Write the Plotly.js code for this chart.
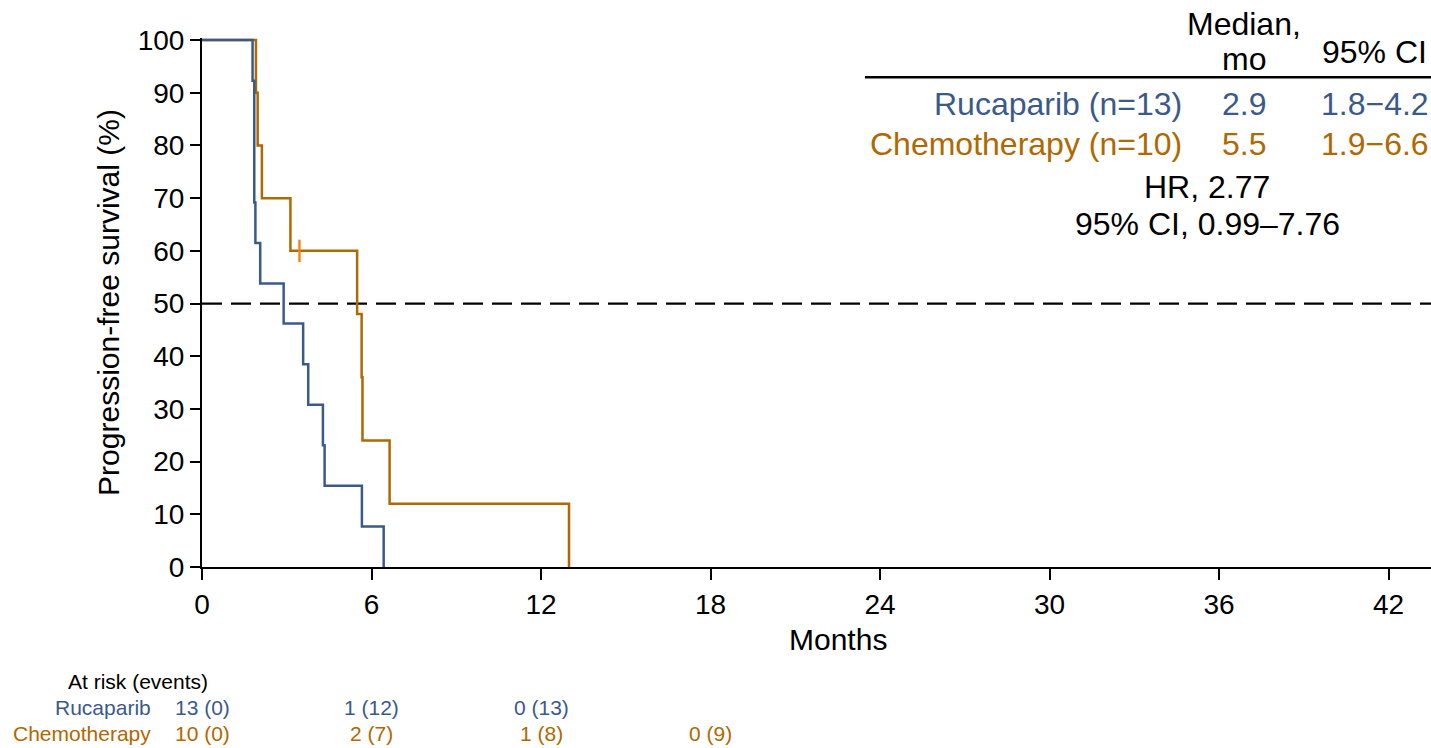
<!DOCTYPE html>
<html>
<head>
<meta charset="utf-8">
<script src="https://cdn.plot.ly/plotly-3.0.1.min.js"></script>
<style>
  html, body { margin: 0; padding: 0; background: #ffffff; }
  #chart { width: 1431px; height: 748px; }
</style>
</head>
<body>
<div id="chart"></div>
<script>
// ---------- data ----------
const rucaTime  = [0, 1.79, 1.85, 1.89, 2.06, 2.89, 3.58, 3.76, 4.28, 4.34, 5.66, 6.43];
const rucaSurv  = [100, 92.3, 69.2, 61.5, 53.8, 46.2, 38.5, 30.8, 23.1, 15.4, 7.7, 0];
const chemoTime = [0, 1.91, 1.97, 2.12, 3.13, 5.49, 5.65, 5.68, 6.64, 12.99];
const chemoSurv = [100, 90, 80, 70, 60, 48, 36, 24, 12, 0];
const chemoCensorTime = [3.45];
const chemoCensorSurv = [60];

const xTicks = [0, 6, 12, 18, 24, 30, 36, 42];
const yTicks = [0, 10, 20, 30, 40, 50, 60, 70, 80, 90, 100];
const medianLine = 50;

const groupNames   = ["Rucaparib (n=13)", "Chemotherapy (n=10)"];
const medianValues = ["2.9", "5.5"];
const ciValues     = ["1.8\u22124.2", "1.9\u22126.6"];
const hrLines      = ["HR, 2.77", "95% CI, 0.99\u20137.76"];

const atRiskTimes  = [0, 6, 12, 18];
const rucaRiskText  = ["13 (0)", "1 (12)", "0 (13)"];
const chemoRiskText = ["10 (0)", "2 (7)", "1 (8)", "0 (9)"];
const riskLabels   = ["Rucaparib", "Chemotherapy"];

// ---------- styling ----------
const BLUE = "#3b5a8a";
const ORANGE = "#b06800";
const FONT = "Liberation Sans, Arial, sans-serif";

const W = 1431, H = 748;
const M = {l: 202, r: 0, t: 38, b: 181};
const plotW = W - M.l - M.r, plotH = H - M.t - M.b;
const px = x => (x - M.l) / plotW;          // pixel x -> paper
const py = y => (H - M.b - y) / plotH;      // pixel y -> paper

const traces = [
  {x: chemoTime, y: chemoSurv, type: "scatter", mode: "lines",
   line: {shape: "hv", color: ORANGE, width: 2.5}, hoverinfo: "skip", showlegend: false},
  {x: chemoCensorTime, y: chemoCensorSurv, type: "scatter", mode: "markers",
   marker: {symbol: "line-ns-open", size: 16, line: {color: ORANGE, width: 2.4}},
   hoverinfo: "skip", showlegend: false},
  {x: rucaTime, y: rucaSurv, type: "scatter", mode: "lines",
   line: {shape: "hv", color: BLUE, width: 2.5}, hoverinfo: "skip", showlegend: false}
];

const ann = [];
function addText(text, xPix, yPixMid, size, color, anchor) {
  ann.push({text: text, xref: "paper", yref: "paper", x: px(xPix), y: py(yPixMid),
            xanchor: anchor, yanchor: "middle", showarrow: false, borderpad: 0,
            font: {family: FONT, size: size, color: color}});
}
const TF = 32;
addText("Median,", 1244, 35 - 0.35 * TF, TF, "#000", "center");
addText("mo", 1244, 70 - 0.35 * TF, TF, "#000", "center");
addText("95% CI", 1374, 63 - 0.35 * TF, TF, "#000", "center");
const groupColors = [BLUE, ORANGE];
const rowBase = [115, 155];
for (let i = 0; i < groupNames.length; i++) {
  addText(groupNames[i], 1183, rowBase[i] - 0.35 * TF, TF, groupColors[i], "right");
  addText(medianValues[i], 1244, rowBase[i] - 0.35 * TF, TF, groupColors[i], "center");
  addText(ciValues[i], 1375, rowBase[i] - 0.35 * TF, TF, groupColors[i], "center");
}
addText(hrLines[0], 1207, 198 - 0.35 * TF, TF, "#000", "center");
addText(hrLines[1], 1207, 235 - 0.35 * TF, TF, "#000", "center");

// x-axis title (centered as in the reference)
addText("Months", 838, 650 - 0.35 * 30, 30, "#000", "center");

// at-risk table
const RF = 21;
addText("At risk (events)", 137.5, 689 - 0.35 * RF, RF, "#000", "center");
addText(riskLabels[0], 152, 715 - 0.35 * RF, RF, BLUE, "right");
addText(riskLabels[1], 152, 741 - 0.35 * RF, RF, ORANGE, "right");
rucaRiskText.forEach((t, i) => ann.push({text: t, xref: "x", yref: "paper", x: atRiskTimes[i],
  y: py(715 - 0.35 * RF), xanchor: "center", yanchor: "middle", showarrow: false,
  font: {family: FONT, size: RF, color: BLUE}}));
chemoRiskText.forEach((t, i) => ann.push({text: t, xref: "x", yref: "paper", x: atRiskTimes[i],
  y: py(741 - 0.35 * RF), xanchor: "center", yanchor: "middle", showarrow: false,
  font: {family: FONT, size: RF, color: ORANGE}}));

const layout = {
  width: W, height: H,
  margin: M,
  paper_bgcolor: "#ffffff", plot_bgcolor: "#ffffff",
  font: {family: FONT, color: "#000"},
  showlegend: false,
  xaxis: {
    range: [0, 43.5], tickvals: xTicks, ticktext: xTicks.map(String),
    ticks: "outside", ticklen: 11, tickwidth: 2, tickcolor: "#000",
    showline: true, linewidth: 2, linecolor: "#000",
    showgrid: false, zeroline: false,
    tickfont: {family: FONT, size: 28, color: "#000"}
  },
  yaxis: {
    range: [0, 100.4], tickvals: yTicks, ticktext: yTicks.map(String),
    ticks: "outside", ticklen: 10, tickwidth: 2, tickcolor: "#000",
    showline: true, linewidth: 2, linecolor: "#000",
    showgrid: false, zeroline: false,
    tickfont: {family: FONT, size: 28, color: "#000"},
    title: {text: "Progression-free survival (%)", font: {family: FONT, size: 30, color: "#000"}, standoff: 9}
  },
  shapes: [
    {type: "line", xref: "paper", yref: "y", x0: 0, x1: 1, y0: medianLine, y1: medianLine,
     line: {color: "#000", width: 2.2, dash: "20px,9px"}, layer: "below"},
    {type: "line", xref: "paper", yref: "paper", x0: px(865), x1: px(1431), y0: py(77.3), y1: py(77.3),
     line: {color: "#000", width: 2.4}}
  ],
  annotations: ann
};

Plotly.newPlot("chart", traces, layout, {staticPlot: true, displayModeBar: false});
</script>
</body>
</html>
